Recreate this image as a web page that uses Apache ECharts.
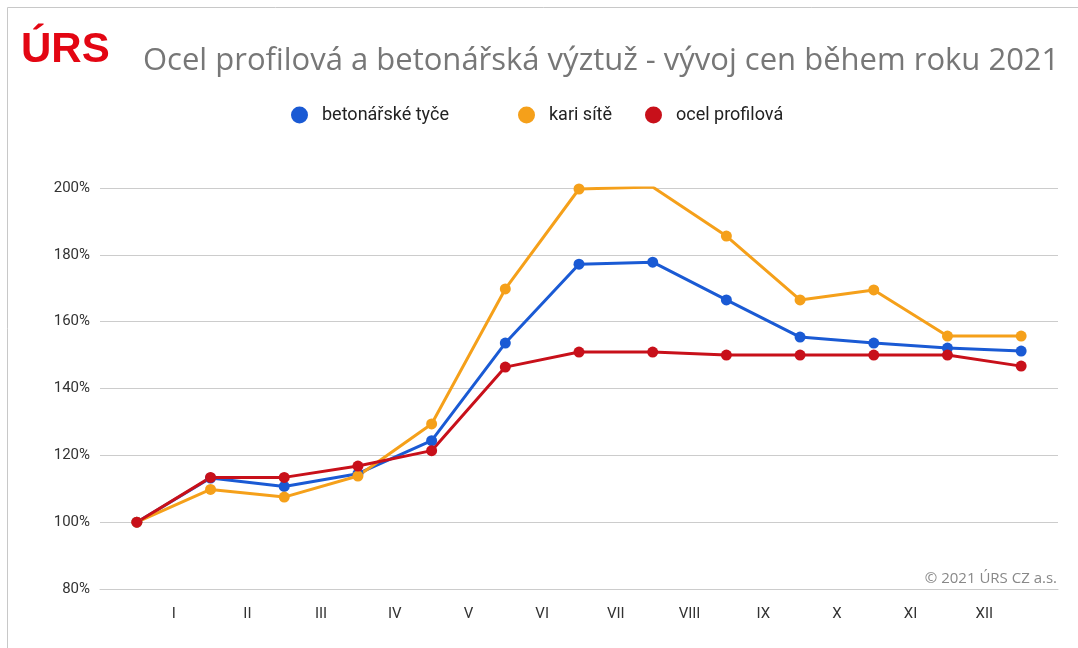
<!DOCTYPE html>
<html>
<head>
<meta charset="utf-8">
<script src="https://cdn.jsdelivr.net/npm/echarts@6/dist/echarts.min.js"></script>
<style>
  html, body { margin: 0; padding: 0; background: #fff; }
  #chart { width: 1078px; height: 648px; }
</style>
</head>
<body>
<div id="chart"></div>
<script>
// 13 points: start of year + end of each month
const points = ['0', '1', '2', '3', '4', '5', '6', '7', '8', '9', '10', '11', '12']
const months = ['I', 'II', 'III', 'IV', 'V', 'VI', 'VII', 'VIII', 'IX', 'X', 'XI', 'XII']

const betonarskeTyce = [100, 113.2, 110.7, 114.5, 124.4, 153.6, 177.2, 177.8, 166.5, 155.4, 153.6, 152.1, 151.2]
const kariSite = [100, 109.8, 107.5, 113.8, 129.4, 169.8, 199.7, 200.3, 185.6, 166.5, 169.5, 155.7, 155.7]
const ocelProfilova = [100, 113.4, 113.4, 116.8, 121.4, 146.4, 150.9, 150.9, 150, 150, 150, 150, 146.7]

const seriesNames = ['betonářské tyče', 'kari sítě', 'ocel profilová']
const colors = ['#1a5ad4', '#f5a01a', '#c8101a']
const legendLeft = [286, 513, 640]

var chart = echarts.init(document.getElementById('chart'))

function line(name, data, color) {
    return {
        name: name,
        type: 'line',
        xAxisIndex: 0,
        data: data,
        symbol: 'circle',
        symbolSize: 11,
        lineStyle: {width: 3, color: color},
        itemStyle: {color: color},
        z: 3
    }
}

// one legend per item so each sits where it does in the original
function legend(i) {
    return {
        top: 101,
        left: legendLeft[i],
        icon: 'circle',
        itemWidth: 17,
        itemHeight: 17,
        data: [seriesNames[i]],
        textStyle: {fontFamily: 'Roboto', fontSize: 18, color: '#222', padding: [0, 0, 0, 9]}
    }
}

chart.setOption({
    animation: false,
    backgroundColor: '#fff',
    color: colors,
    graphic: [
        {type: 'rect', shape: {x: 7.5, y: 7.5, width: 1080, height: 660}, style: {fill: 'none', stroke: '#c8c8c8', lineWidth: 1}},
        {type: 'text', left: 21, top: 29, style: {text: 'ÚRS', font: '900 42px "Liberation Sans", Arial', fill: '#e30613'}},
        {type: 'text', left: 143, top: 46, style: {text: 'Ocel profilová a betonářská výztuž - vývoj cen během roku 2021', font: '31px "Open Sans"', fill: '#777'}},
        {type: 'text', right: 21, top: 571, style: {text: '© 2021 ÚRS CZ a.s.', font: '15px "Open Sans"', fill: '#888'}}
    ],
    legend: [legend(0), legend(1), legend(2)],
    grid: {left: 100, right: 20, top: 188, bottom: 59},
    xAxis: [
        {
            type: 'category',
            data: points,
            boundaryGap: true,
            axisLine: {show: false},
            axisTick: {show: false},
            axisLabel: {show: false}
        },
        {
            // month labels sit between the data points
            type: 'value',
            position: 'bottom',
            min: 0,
            max: 13,
            interval: 1,
            axisLine: {show: true, lineStyle: {color: '#ccc'}},
            axisTick: {show: false},
            splitLine: {show: false},
            axisLabel: {
                margin: 18,
                fontFamily: 'Roboto',
                fontSize: 15,
                color: '#333',
                formatter: v => months[v - 1] || ''
            }
        }
    ],
    yAxis: {
        type: 'value',
        min: 80,
        max: 200,
        interval: 20,
        axisLine: {show: false},
        axisTick: {show: false},
        splitLine: {lineStyle: {color: '#ccc', width: 1}},
        axisLabel: {
            margin: 10,
            fontFamily: 'Roboto',
            fontSize: 15,
            color: '#333',
            formatter: '{value}%'
        }
    },
    series: [
        line(seriesNames[0], betonarskeTyce, colors[0]),
        line(seriesNames[1], kariSite, colors[1]),
        line(seriesNames[2], ocelProfilova, colors[2])
    ]
})
</script>
</body>
</html>
